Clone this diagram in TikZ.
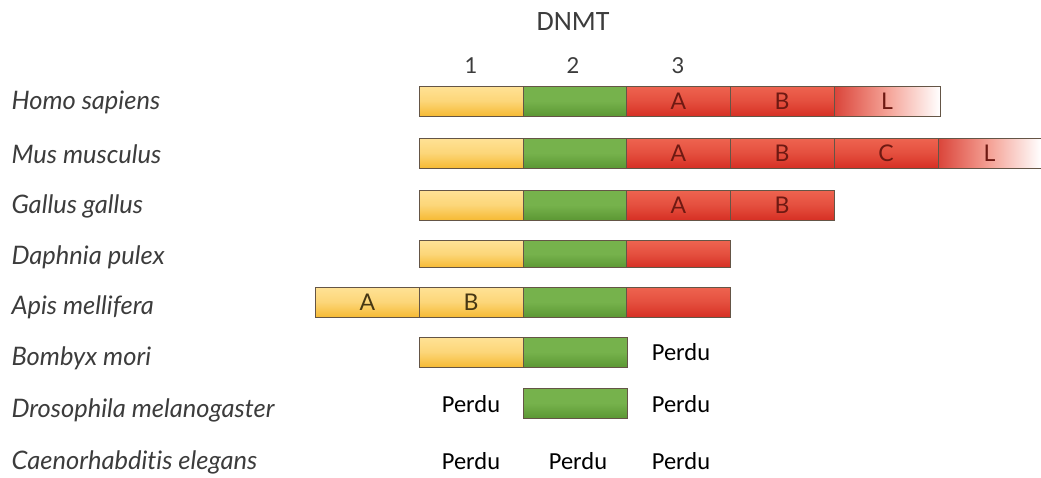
\documentclass[tikz,border=0pt]{standalone}
\usepackage{fontspec}
\usepackage{xcolor}
\usetikzlibrary{positioning}
\newfontfamily\speciesfont[Ligatures=NoCommon]{Lato}
\newfontfamily\labelfont{Carlito}
\definecolor{yellowtop}{RGB}{255,226,150}
\definecolor{yellowbot}{RGB}{246,186,52}
\definecolor{greentop}{RGB}{118,178,76}
\definecolor{greenbot}{RGB}{92,152,52}
\definecolor{redtop}{RGB}{238,100,80}
\definecolor{redbot}{RGB}{214,48,36}
\definecolor{segline}{RGB}{100,85,70}
\definecolor{redtext}{RGB}{110,25,18}
\definecolor{yellowtext}{RGB}{70,55,20}
\definecolor{speciestext}{RGB}{60,60,60}
\tikzset{
  seg/.style={draw=segline, line width=0.7pt, minimum width=104pt,
    minimum height=30pt, inner sep=0pt, font=\speciesfont\fontsize{23}{23}\selectfont},
  yellowseg/.style={seg, top color=yellowtop, bottom color=yellowbot,
    middle color=yellowtop!70!yellowbot, text=yellowtext},
  greenseg/.style={seg, top color=greentop, bottom color=greenbot,
    middle color=greentop, text=redtext},
  redseg/.style={seg, top color=redtop, bottom color=redbot,
    middle color=redtop!60!redbot, text=redtext},
  tailseg/.style={seg, left color=redbot!90!white, right color=white,
    middle color=redtop!60!white, text=redtext},
  species/.style={anchor=west, text=speciestext,
    font=\speciesfont\itshape\fontsize{25.5}{25.5}\selectfont},
  lost/.style={font=\labelfont\fontsize{24.5}{24.5}\selectfont},
  colhead/.style={font=\speciesfont\fontsize{22}{22}\selectfont, text=speciestext}
}

\begin{document}
\begin{tikzpicture}[x=1pt,y=-1pt]
  \useasboundingbox (0,0) rectangle (1041,477);

  % header
  \node[font=\labelfont\fontsize{28}{28}\selectfont, text=speciestext] (dnmt) at (573,22) {DNMT};
  \node[colhead] (col1) at (471,66) {1};
  \node[colhead] (col2) at (573,66) {2};
  \node[colhead] (col3) at (678,66) {3};

  % species names
  \node[species] (homo) at (8,102) {Homo sapiens};
  \node[species] (mus) at (8,154) {Mus musculus};
  \node[species] (gallus) at (8,206) {Gallus gallus};
  \node[species] (daphnia) at (8,257) {Daphnia pulex};
  \node[species] (apis) at (8,307) {Apis mellifera};
  \node[species] (bombyx) at (8,358) {Bombyx mori};
  \node[species] (droso) at (8,410) {Drosophila melanogaster};
  \node[species] (caeno) at (8,462) {Caenorhabditis elegans};

  % Homo sapiens
  \node[yellowseg] (homoA) at (471,101) {};
  \node[greenseg] (homoB) at (575,101) {};
  \node[redseg] (homoC) at (678.5,101) {A};
  \node[redseg] (homoD) at (782,101) {B};
  \node[tailseg, minimum width=106pt] (homoE) at (887,101) {L};

  % Mus musculus
  \node[yellowseg] (musA) at (471,153) {};
  \node[greenseg] (musB) at (575,153) {};
  \node[redseg] (musC) at (678.5,153) {A};
  \node[redseg] (musD) at (782,153) {B};
  \node[redseg] (musE) at (886,153) {C};
  \node[tailseg, minimum width=103pt] (musF) at (989.5,153) {L};

  % Gallus gallus
  \node[yellowseg] (gallusA) at (471,205) {};
  \node[greenseg] (gallusB) at (575,205) {};
  \node[redseg] (gallusC) at (678.5,205) {A};
  \node[redseg] (gallusD) at (782,205) {B};

  % Daphnia pulex
  \node[yellowseg, minimum height=27pt] (daphniaA) at (471,254) {};
  \node[greenseg, minimum height=27pt] (daphniaB) at (575,254) {};
  \node[redseg, minimum height=27pt] (daphniaC) at (678.5,254) {};

  % Apis mellifera
  \node[yellowseg] (apisA) at (367.5,302) {A};
  \node[yellowseg] (apisB) at (471,302) {B};
  \node[greenseg] (apisC) at (575,302) {};
  \node[redseg] (apisD) at (678.5,302) {};

  % Bombyx mori
  \node[yellowseg] (bombyxA) at (471,352) {};
  \node[greenseg] (bombyxB) at (575,352) {};
  \node[lost] (bombyxC) at (681,352) {Perdu};

  % Drosophila melanogaster
  \node[lost] (drosoA) at (471,404) {Perdu};
  \node[greenseg] (drosoB) at (575,403) {};
  \node[lost] (drosoC) at (681,404) {Perdu};

  % Caenorhabditis elegans
  \node[lost] (caenoA) at (471,461) {Perdu};
  \node[lost] (caenoB) at (578,461) {Perdu};
  \node[lost] (caenoC) at (681,461) {Perdu};
\end{tikzpicture}
\end{document}
